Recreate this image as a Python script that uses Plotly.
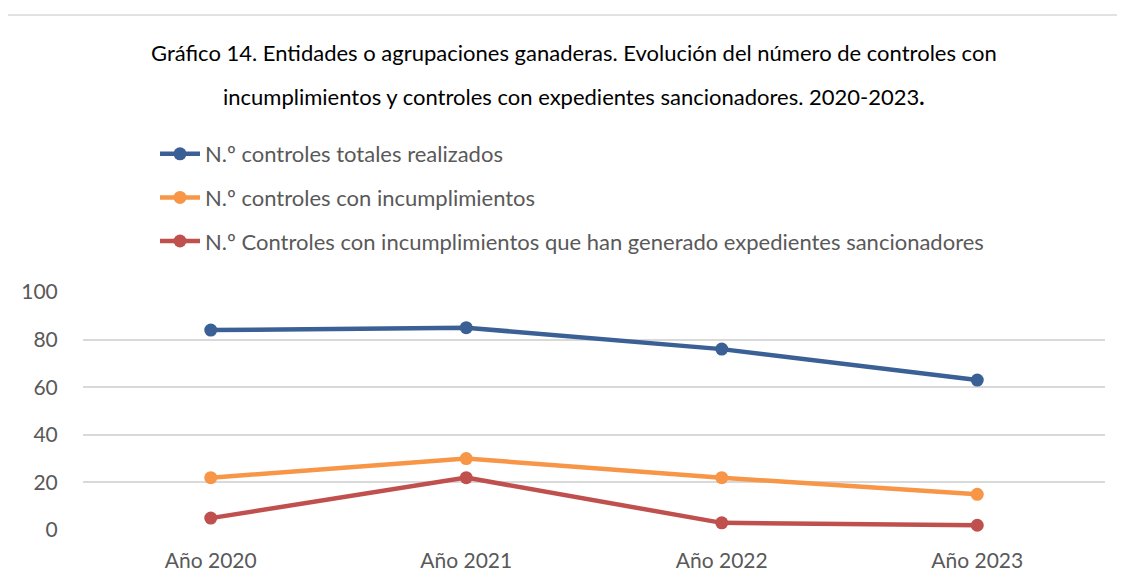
import plotly.graph_objects as go

years = ["Año 2020", "Año 2021", "Año 2022", "Año 2023"]
totales = [84, 85, 76, 63]
incumplimientos = [22, 30, 22, 15]
sancionadores = [5, 22, 3, 2]

series = [
    ("N.º controles totales realizados", totales, "#3A6095"),
    ("N.º controles con incumplimientos", incumplimientos, "#F79646"),
    ("N.º Controles con incumplimientos que han generado expedientes sancionadores", sancionadores, "#C0504D"),
]

fnt = "Lato"
grey = "#595959"

fig = go.Figure()
for i, (name, vals, col) in enumerate(series):
    fig.add_trace(go.Scatter(
        x=years, y=vals, name=name, mode="lines+markers", legendgroup="g%d" % i,
        line=dict(color=col, width=4.5),
        marker=dict(color=col, size=13),
        cliponaxis=False,
    ))

# la página tiene 8 px de margen en el body: todo se desplaza 8 px
off = 8
top, bot, left, right = 292 - off, 530 - off, 83 - off, 1105 - off
H = float(bot - top)
W = float(right - left)

def py(y):
    return (bot - (y - off)) / H

def px(x):
    return ((x - off) - left) / W

fig.add_annotation(text="Gráfico 14. Entidades o agrupaciones ganaderas. Evolución del número de controles con",
                   xref="paper", yref="paper", x=px(574), y=py(52), showarrow=False,
                   xanchor="center", yanchor="middle", font=dict(family=fnt, size=22, color="black"))
fig.add_annotation(text="incumplimientos y controles con expedientes sancionadores. 2020-2023<b>.</b>",
                   xref="paper", yref="paper", x=px(574), y=py(96), showarrow=False,
                   xanchor="center", yanchor="middle", font=dict(family=fnt, size=22, color="black"))

# marco del gráfico
fig.add_shape(type="rect", xref="paper", yref="paper",
              x0=px(7), x1=px(1200), y0=py(700), y1=py(15),
              line=dict(color="#d9d9d9", width=1.5), layer="below")

fig.update_layout(
    width=1125, height=581,
    margin=dict(l=left, r=1125 - right, t=top, b=581 - bot),
    paper_bgcolor="white", plot_bgcolor="white",
    font=dict(family=fnt, size=21, color=grey),
    showlegend=True,
    legend=dict(x=px(155), y=py(133), xanchor="left", yanchor="top",
                font=dict(family=fnt, size=22, color=grey), tracegroupgap=12,
                bgcolor="rgba(0,0,0,0)", itemwidth=40),
    xaxis=dict(range=[-0.5, 3.5], showgrid=False, showline=False, ticks="outside",
               ticklen=12, tickcolor="rgba(0,0,0,0)",
               tickfont=dict(size=21, color=grey)),
    yaxis=dict(range=[0, 100], dtick=20, showgrid=True, gridcolor="#d9d9d9", gridwidth=1.5,
               zeroline=False, showline=False, ticks="outside", ticklen=20,
               tickcolor="rgba(0,0,0,0)",
               tickfont=dict(size=21, color=grey)),
)

fig.write_html("out.html")
